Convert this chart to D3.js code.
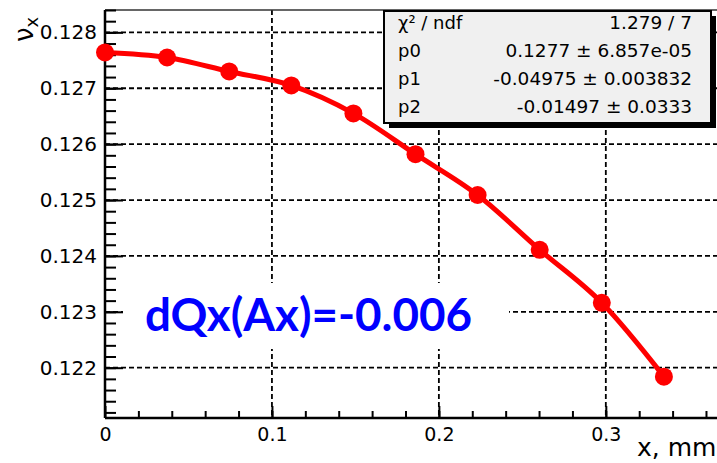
<!DOCTYPE html>
<html>
<head>
<meta charset="utf-8">
<script src="https://cdn.jsdelivr.net/npm/d3@7"></script>
<style>
  body { margin: 0; background: #fff; }
  svg { display: block; }
</style>
</head>
<body>
<div id="chart"></div>
<script>
// measured points (x in mm, tune value)
var xVals = [0, 0.0372, 0.0744, 0.1116, 0.1488, 0.186, 0.2232, 0.2604, 0.2976, 0.3348];
var yVals = [0.12764, 0.12755, 0.12730, 0.12705, 0.12655, 0.12582, 0.12509, 0.12411, 0.12316, 0.12184];

var yMajor = [0.122, 0.123, 0.124, 0.125, 0.126, 0.127, 0.128];
var xMajor = [0, 0.1, 0.2, 0.3];
var xLabels = ["0", "0.1", "0.2", "0.3"];

var statNames = ["χ² / ndf", "p0", "p1", "p2"];
var statValues = ["1.279 / 7", "0.1277 ± 6.857e-05", "-0.04975 ± 0.003832", "-0.01497 ± 0.0333"];

var annotation = "dQx(Ax)=-0.006";

var width = 717, height = 463;
var plotLeft = 105, plotTop = 10, plotBottom = 418;

var svg = d3.select("#chart").append("svg")
    .attr("width", width)
    .attr("height", height);

var x = d3.scaleLinear().domain([0, 0.3666]).range([plotLeft, width]);
var y = d3.scaleLinear().domain([0.1211, 0.1284]).range([plotBottom, plotTop]);

var data = xVals.map(function(d, i){ return {x: d, y: yVals[i]}; });

// minor ticks
var yMinor = d3.range(0.1212, 0.12841, 0.0002);
var xMinor = d3.range(0.02, 0.3666, 0.02);

// grid (dashed)
var grid = svg.append("g");
grid.selectAll(".hg").data(yMajor).enter().append("line")
    .attr("x1", plotLeft).attr("x2", width)
    .attr("y1", function(d){ return y(d); }).attr("y2", function(d){ return y(d); })
    .attr("stroke", "#000").attr("stroke-width", 1.8).attr("stroke-dasharray", "5,3");
grid.selectAll(".vg").data(xMajor.slice(1)).enter().append("line")
    .attr("y1", plotTop).attr("y2", plotBottom)
    .attr("x1", function(d){ return x(d); }).attr("x2", function(d){ return x(d); })
    .attr("stroke", "#000").attr("stroke-width", 1.8).attr("stroke-dasharray", "5,3");

// top frame line
svg.append("line")
    .attr("x1", plotLeft).attr("x2", width).attr("y1", plotTop).attr("y2", plotTop)
    .attr("stroke", "#333").attr("stroke-width", 1.5);

// minor ticks
svg.append("g")
    .attr("transform", "translate(" + plotLeft + ",0)")
    .call(d3.axisLeft(y).tickValues(yMinor).tickSize(-11).tickFormat(""))
    .call(function(g){ g.select(".domain").remove(); })
    .selectAll("line").attr("stroke-width", 2);
svg.append("g")
    .attr("transform", "translate(0," + plotBottom + ")")
    .call(d3.axisBottom(x).tickValues(xMinor).tickSize(-7).tickFormat(""))
    .call(function(g){ g.select(".domain").remove(); })
    .selectAll("line").attr("stroke-width", 2);

// major y axis
var yAxis = svg.append("g")
    .attr("transform", "translate(" + plotLeft + ",0)")
    .call(d3.axisLeft(y).tickValues(yMajor).tickSize(-18).tickPadding(8).tickFormat(d3.format(".3f")));
yAxis.select(".domain").remove();
yAxis.selectAll("line").attr("stroke-width", 2);
yAxis.selectAll("text")
    .attr("font-family", "DejaVu Sans")
    .attr("font-size", 20)
    .attr("fill", "#000");

// major x axis
var xAxis = svg.append("g")
    .attr("transform", "translate(0," + plotBottom + ")")
    .call(d3.axisBottom(x).tickValues(xMajor).tickSize(-12).tickPadding(10)
      .tickFormat(function(d, i){ return xLabels[i]; }));
xAxis.select(".domain").remove();
xAxis.selectAll("line").attr("stroke-width", 2);
xAxis.selectAll("text")
    .attr("font-family", "DejaVu Sans")
    .attr("font-size", 19)
    .attr("fill", "#000");

// axis lines
svg.append("line").attr("x1", plotLeft).attr("x2", plotLeft).attr("y1", plotTop).attr("y2", plotBottom)
    .attr("stroke", "#000").attr("stroke-width", 2.5);
svg.append("line").attr("x1", plotLeft).attr("x2", width).attr("y1", plotBottom).attr("y2", plotBottom)
    .attr("stroke", "#000").attr("stroke-width", 2.5);

// axis titles
svg.append("text")
    .attr("x", 637).attr("y", 456)
    .attr("font-family", "DejaVu Sans")
    .attr("font-size", 25)
    .attr("fill", "#000")
    .text("x, mm");

var yTitle = svg.append("text")
    .attr("transform", "translate(33,42) rotate(-90)")
    .attr("font-family", "DejaVu Sans")
    .attr("font-size", 26)
    .attr("fill", "#000");
yTitle.append("tspan").text("ν");
yTitle.append("tspan").attr("font-size", 18).attr("dy", 5).text("x");

// annotation with white background
svg.append("rect")
    .attr("x", 123).attr("y", 283).attr("width", 386).attr("height", 66)
    .attr("fill", "#fff");
svg.append("text")
    .attr("x", 145).attr("y", 331)
    .attr("font-family", "Lato")
    .attr("font-weight", "bold")
    .attr("font-size", 45)
    .attr("fill", "#0000ff")
    .attr("textLength", 327)
    .attr("lengthAdjust", "spacingAndGlyphs")
    .text(annotation);

// fit curve + points
var line = d3.line()
    .x(function(d){ return x(d.x); })
    .y(function(d){ return y(d.y); })
    .curve(d3.curveMonotoneX);

svg.append("path")
    .datum(data)
    .attr("d", line)
    .attr("fill", "none")
    .attr("stroke", "#ff0000")
    .attr("stroke-width", 5);

svg.selectAll(".pt")
    .data(data)
    .enter()
    .append("circle")
    .attr("class", "pt")
    .attr("cx", function(d){ return x(d.x); })
    .attr("cy", function(d){ return y(d.y); })
    .attr("r", 9)
    .attr("fill", "#ff0000");

// stats box
var bx = 384, by = 11, bw = 327, bh = 112;
svg.append("rect")
    .attr("x", bx + 5).attr("y", by + 5).attr("width", bw).attr("height", bh)
    .attr("fill", "#000");
svg.append("rect")
    .attr("x", bx).attr("y", by).attr("width", bw).attr("height", bh)
    .attr("fill", "#f0f0f0").attr("stroke", "#000").attr("stroke-width", 2);

var rowY = [29, 57, 85, 113];
svg.selectAll(".sname")
    .data(statNames)
    .enter()
    .append("text")
    .attr("x", 398)
    .attr("y", function(d, i){ return rowY[i]; })
    .attr("font-family", "DejaVu Sans")
    .attr("font-size", 18)
    .attr("fill", "#000")
    .text(function(d){ return d; });
svg.selectAll(".sval")
    .data(statValues)
    .enter()
    .append("text")
    .attr("x", 692)
    .attr("y", function(d, i){ return rowY[i]; })
    .attr("text-anchor", "end")
    .attr("font-family", "DejaVu Sans")
    .attr("font-size", 18.5)
    .attr("fill", "#000")
    .text(function(d){ return d; });
</script>
</body>
</html>
